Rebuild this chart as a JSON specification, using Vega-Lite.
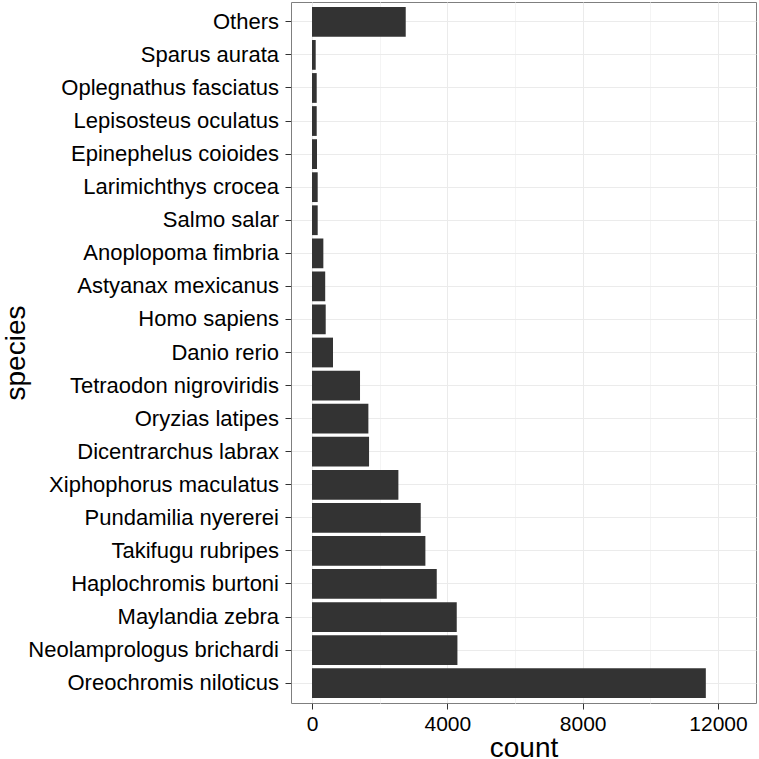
{
  "$schema": "https://vega.github.io/schema/vega-lite/v6.json",
  "width": 465,
  "height": 701,
  "autosize": "none",
  "padding": {"left": 291, "top": 2, "right": 3, "bottom": 56},
  "background": "white",
  "config": {
    "view": {"stroke": "#7f7f7f", "strokeWidth": 1},
    "font": "Liberation Sans"
  },
  "data": {
    "values": [
      {"species": "Others", "count": 2770},
      {"species": "Sparus aurata", "count": 109},
      {"species": "Oplegnathus fasciatus", "count": 139},
      {"species": "Lepisosteus oculatus", "count": 139},
      {"species": "Epinephelus coioides", "count": 148},
      {"species": "Larimichthys crocea", "count": 168},
      {"species": "Salmo salar", "count": 168},
      {"species": "Anoplopoma fimbria", "count": 335},
      {"species": "Astyanax mexicanus", "count": 390},
      {"species": "Homo sapiens", "count": 405},
      {"species": "Danio rerio", "count": 621},
      {"species": "Tetraodon nigroviridis", "count": 1419},
      {"species": "Oryzias latipes", "count": 1666},
      {"species": "Dicentrarchus labrax", "count": 1686},
      {"species": "Xiphophorus maculatus", "count": 2553},
      {"species": "Pundamilia nyererei", "count": 3214},
      {"species": "Takifugu rubripes", "count": 3351},
      {"species": "Haplochromis burtoni", "count": 3687},
      {"species": "Maylandia zebra", "count": 4278},
      {"species": "Neolamprologus brichardi", "count": 4298},
      {"species": "Oreochromis niloticus", "count": 11640}
    ]
  },
  "mark": {"type": "bar", "color": "#333333"},
  "encoding": {
    "y": {
      "field": "species",
      "type": "nominal",
      "sort": null,
      "scale": {"paddingInner": 0.1, "paddingOuter": 0.15},
      "axis": {
        "title": "species",
        "titleFontSize": 28,
        "titleFontWeight": "normal",
        "titleColor": "black",
        "titleX": -267,
        "titleBaseline": "alphabetic",
        "labelFontSize": 22,
        "labelColor": "black",
        "labelPadding": 6.5,
        "tickSize": 6,
        "tickColor": "#333333",
        "domain": false,
        "grid": true,
        "gridColor": "#ebebeb",
        "bandPosition": 0.5,
        "labelLimit": 400
      }
    },
    "x": {
      "field": "count",
      "type": "quantitative",
      "scale": {"domain": [-621, 13123], "nice": false, "zero": false},
      "axis": {
        "title": "count",
        "titleFontSize": 28,
        "titleFontWeight": "normal",
        "titleColor": "black",
        "titleY": 53,
        "titleBaseline": "alphabetic",
        "values": [0, 2000, 4000, 6000, 8000, 10000, 12000],
        "labelExpr": "datum.value % 4000 == 0 ? datum.label : ''",
        "format": "d",
        "labelFontSize": 21,
        "labelColor": "black",
        "labelPadding": 4.5,
        "labelFlush": false,
        "labelOverlap": false,
        "tickSize": 6,
        "tickColor": {"condition": {"test": "datum.value % 4000 == 0", "value": "#333333"}, "value": "transparent"},
        "domain": false,
        "grid": true,
        "gridColor": {"condition": {"test": "datum.value % 4000 == 0", "value": "#ebebeb"}, "value": "#f4f4f4"}
      }
    },
    "x2": {"datum": 0}
  }
}
